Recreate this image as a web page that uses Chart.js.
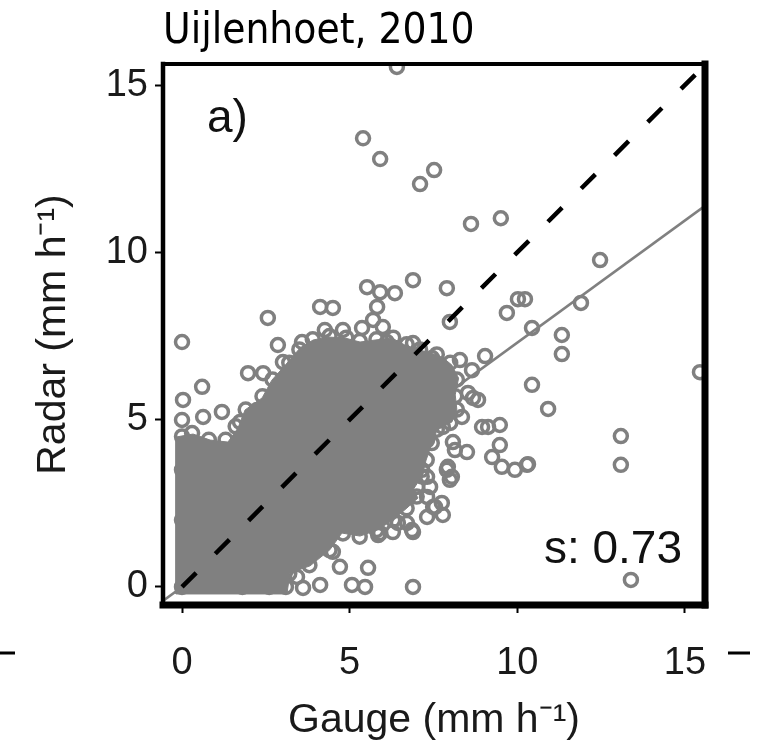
<!DOCTYPE html>
<html>
<head>
<meta charset="utf-8">
<title>Radar vs gauge</title>
<script src="https://cdn.jsdelivr.net/npm/chart.js@4.4.1/dist/chart.umd.min.js"></script>
<style>
  html, body { margin: 0; padding: 0; background: #fff; }
  canvas { display: block; }
</style>
</head>
<body>
<canvas id="scatter" width="760" height="741"></canvas>
<script>
"use strict";

// Radar vs gauge rain rates (Uijlenhoet, 2010), panel a)

// single circles (mm/h)
const gaugeVals = [
  0.00, 2.56, 4.12, 4.50, 6.41, 5.40, 5.91, 7.10, 7.52, 8.62,
  9.51, 6.89, 7.90, 7.99, 9.69, 10.02, 10.23, 12.47, 11.90, 11.33,
  11.33, 10.44, 10.92, 13.09, 13.09, 10.32, 13.39, 15.45, 9.04, 8.29,
  9.48, 8.95, 9.13, 9.25, 9.48, 9.54, 9.93, 10.29, 8.08, 8.14,
  8.50, 7.93, 8.05, 7.78, 7.55, 6.89, 5.55, 5.46, 5.07, 8.68,
  8.83, 0.60, 0.03, 1.97, 2.42, 2.86, 3.01, 3.58, 0.00, 0.63,
  1.19, 1.73, 2.24, 3.43, 3.61, 4.12, 4.71, 4.50, 5.91, 6.29,
  6.71, 6.89, 7.31, 7.49, 7.31, 7.40, 7.31, 7.90, 7.99, 7.01,
  6.89, 7.46, 7.63, 8.65, 8.53, 8.35, 7.78, 7.31, 7.16, 7.75,
  6.86, 6.44, 5.85, 5.52, 5.91, 6.35, 5.82, 5.70, 5.37, 5.99,
  6.11, 4.26, 4.80, 7.69, 7.31, 10.44,
  // circles sitting on the rim of the grey patch
  0.00, 0.30, 0.80, 1.30, 1.60, 1.90, 2.40, 2.70, 3.20, 3.50,
  3.90, 4.40, 4.90, 5.30, 5.80, 6.30, 6.70, 7.10, 7.60, 8.00,
  8.20, 8.15, 8.20, 8.00, 7.60, 7.45, 7.30, 7.15, 7.00, 6.70,
  6.30, 5.80, 5.30, 4.80, 4.40, 3.80, 3.20, 3.10, 2.60, 1.80,
  0.00, 0.00, 0.00
];
const radarVals = [
  7.32, 8.04, 8.37, 8.34, 15.54, 13.41, 12.79, 12.04, 12.46, 10.85,
  11.02, 9.17, 8.93, 7.92, 8.19, 8.60, 8.60, 9.77, 8.49, 7.53,
  6.96, 6.04, 5.32, 4.51, 3.65, 3.67, 0.21, 6.42, 6.90, 6.78,
  4.84, 4.78, 4.78, 3.88, 4.24, 3.59, 3.50, 3.65, 4.33, 4.09,
  4.03, 3.59, 3.29, 2.15, 2.39, 0.00, 0.57, 0.00, 0.06, 5.65,
  5.59, 5.98, 5.59, 6.39, 6.39, 7.23, 6.72, 7.32, 4.99, 5.08,
  5.23, 4.93, 5.29, 0.30, -0.03, 0.06, 0.60, 1.05, 1.61, 1.64,
  1.91, 1.64, 2.09, 2.39, 2.69, 2.99, 3.29, 3.50, 3.20, 2.99,
  7.29, 6.84, 6.39, 6.48, 5.80, 5.08, 4.78, 4.39, 3.50, 2.51,
  1.70, 1.91, 1.55, 8.96, 8.81, 8.78, 8.37, 7.98, 7.74, 7.77,
  7.32, 7.68, 7.68, 5.98, 6.27, 7.74,
  4.50, 4.60, 4.40, 4.40, 4.80, 5.30, 5.70, 6.20, 6.70, 7.10,
  7.40, 7.50, 7.45, 7.35, 7.40, 7.45, 7.25, 7.10, 6.95, 6.70,
  6.20, 5.70, 5.30, 4.90, 4.70, 4.30, 3.80, 3.30, 2.70, 2.35,
  2.00, 1.70, 1.50, 1.60, 1.10, 0.65, 0.40, 0.00, 0.00, 0.00,
  0.00, 2.00, 3.50
];

// outline of the saturated cloud where the circles merge into one grey patch
const cloudGauge = [
  -0.18, 3.13, 3.22, 3.82, 4.41, 4.77, 5.31, 5.82, 6.29, 6.71,
  7.04, 6.89, 7.16, 7.28, 7.46, 7.61, 8.05, 8.20, 8.15, 8.25,
  8.05, 7.80, 7.61, 7.10, 6.65, 6.26, 5.76, 5.31, 4.86, 4.35,
  3.91, 3.52, 3.16, 2.68, 2.39, 1.88, 1.67, 1.37, 0.84, 0.33,
  -0.18, -0.18
];
const cloudRadar = [
  -0.21, -0.21, 0.42, 0.63, 1.11, 1.61, 1.52, 1.70, 2.00, 2.36,
  2.66, 2.90, 3.32, 3.79, 4.30, 4.69, 4.93, 5.29, 5.74, 6.24,
  6.63, 6.84, 6.93, 7.08, 7.23, 7.44, 7.38, 7.32, 7.44, 7.47,
  7.38, 7.14, 6.72, 6.18, 5.65, 5.29, 4.75, 4.33, 4.39, 4.57,
  4.48, -0.21
];

// 1:1 line and fitted line (slope 0.73)
const oneToOneGauge = [0, 15.6];
const oneToOneRadar = [0, 15.6];
const fitGauge = [-0.57, 15.6];
const fitRadar = [-0.42, 11.39];

const xTicks = [0, 5, 10, 15];
const yTicks = [0, 5, 10, 15];

const toPoints = (xs, ys) => xs.map((x, i) => ({x: x, y: ys[i]}));

const grey = "#808080";
const tickFont = {family: "'Liberation Sans', Arial, sans-serif", size: 38};
const labelFont = {family: "'Liberation Sans', Arial, sans-serif", size: 41, lineHeight: 1};

// box round the plot (right and bottom edges are heavier), panel letter, slope, stray rules
const framePlugin = {
  id: "frame",
  afterDatasetsDraw(chart) {
    const ctx = chart.ctx;
    const a = chart.chartArea;
    ctx.save();
    ctx.strokeStyle = "#000";
    ctx.lineCap = "square";
    const edge = (x1, y1, x2, y2, w) => {
      ctx.lineWidth = w;
      ctx.beginPath();
      ctx.moveTo(x1, y1);
      ctx.lineTo(x2, y2);
      ctx.stroke();
    };
    edge(a.left, a.top, a.right, a.top, 4);
    edge(a.left, a.top, a.left, a.bottom, 4.5);
    edge(a.right, a.top, a.right, a.bottom, 7);
    edge(a.left, a.bottom, a.right, a.bottom, 7);
    ctx.restore();
  },
  afterDraw(chart) {
    const ctx = chart.ctx;
    const a = chart.chartArea;
    ctx.save();
    ctx.fillStyle = "#111";
    ctx.textBaseline = "alphabetic";
    ctx.font = "46px 'Liberation Sans', Arial, sans-serif";
    ctx.textAlign = "left";
    ctx.fillText("a)", a.left + 44, a.top + 68);
    ctx.textAlign = "right";
    ctx.fillText("s: 0.73", a.right - 23, a.bottom - 42);

    ctx.strokeStyle = "#000";
    ctx.lineWidth = 3;
    ctx.beginPath();
    ctx.moveTo(0, a.bottom + 48);
    ctx.lineTo(15, a.bottom + 48);
    ctx.moveTo(728, a.bottom + 48);
    ctx.lineTo(750, a.bottom + 48);
    ctx.stroke();
    ctx.restore();
  }
};

let ctx_scatter = document.getElementById("scatter").getContext("2d");

let scatterChart = new Chart(ctx_scatter, {
  type: "scatter",
  data: {
    datasets: [
      {
        type: "line",
        label: "1:1",
        data: toPoints(oneToOneGauge, oneToOneRadar),
        borderColor: "#000",
        borderWidth: 4.5,
        borderDash: [20, 27],
        borderCapStyle: "butt",
        pointRadius: 0,
        fill: false,
        order: 0
      },
      {
        type: "line",
        label: "fit",
        data: toPoints(fitGauge, fitRadar),
        borderColor: grey,
        borderWidth: 2.5,
        pointRadius: 0,
        fill: false,
        order: 1
      },
      {
        label: "radar vs gauge",
        data: toPoints(gaugeVals, radarVals),
        pointStyle: "circle",
        pointRadius: 6.5,
        pointBorderWidth: 3.5,
        borderColor: grey,
        backgroundColor: "rgba(0,0,0,0)",
        order: 2
      },
      {
        type: "line",
        label: "cloud",
        data: toPoints(cloudGauge, cloudRadar),
        borderColor: grey,
        borderWidth: 1,
        backgroundColor: grey,
        pointRadius: 0,
        tension: 0,
        fill: "shape",
        order: 3
      }
    ]
  },
  options: {
    responsive: false,
    animation: false,
    devicePixelRatio: 1,
    layout: {padding: {left: 0, right: 55, top: 0, bottom: 0}},
    plugins: {
      legend: {display: false},
      tooltip: {enabled: false},
      title: {
        display: true,
        text: "Uijlenhoet, 2010",
        align: "start",
        fullSize: false,
        color: "#000",
        font: {family: "'DejaVu Sans Condensed', 'DejaVu Sans', sans-serif", size: 42, weight: "normal", lineHeight: 1.2},
        padding: {top: 7, bottom: 6.6}
      }
    },
    scales: {
      x: {
        type: "linear",
        min: -0.567,
        max: 15.6,
        afterBuildTicks: (s) => { s.ticks = xTicks.map(v => ({value: v})); },
        afterFit: (s) => { s.height = 136; },
        border: {display: false},
        grid: {drawOnChartArea: false, drawTicks: true, tickLength: 8, tickWidth: 2, tickColor: "#000"},
        ticks: {font: tickFont, color: "#1a1a1a", padding: 28, maxRotation: 0},
        title: {display: true, text: "Gauge (mm h\u207B\u00B9)", font: labelFont, color: "#1a1a1a", padding: {top: 0, bottom: 0}}
      },
      y: {
        type: "linear",
        min: -0.54,
        max: 15.63,
        afterBuildTicks: (s) => { s.ticks = yTicks.map(v => ({value: v})); },
        afterFit: (s) => { s.width = 163; },
        border: {display: false},
        grid: {drawOnChartArea: false, drawTicks: true, tickLength: 8, tickWidth: 2, tickColor: "#000"},
        ticks: {font: tickFont, color: "#1a1a1a", padding: 7},
        title: {display: true, text: "Radar (mm h\u207B\u00B9)", font: labelFont, color: "#1a1a1a", padding: {top: 33, bottom: 0}}
      }
    }
  },
  plugins: [framePlugin]
});
</script>
</body>
</html>
